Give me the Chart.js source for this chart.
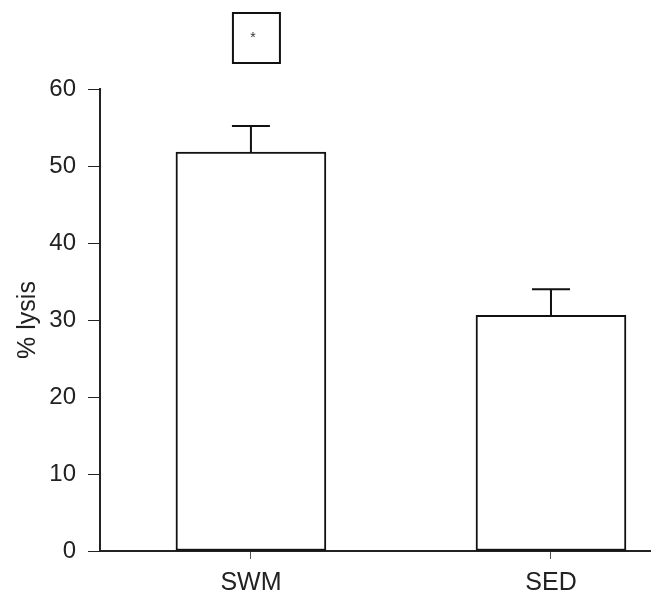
<!DOCTYPE html>
<html>
<head>
<meta charset="utf-8">
<script src="https://cdn.jsdelivr.net/npm/chart.js@4"></script>
<style>
  body { margin: 0; background: #fff; }
  #lysisChart { display: block; }
</style>
</head>
<body>
<canvas id="lysisChart" width="657" height="601"></canvas>
<script>
const categories = ["SWM", "SED"];
const xPositions = [1, 2];
const meanLysis = [51.8, 30.6];
const errLysis = [3.4, 3.4];
const yTicks = [0, 10, 20, 30, 40, 50, 60];
const sigMark = "*";

const FONT = "'Liberation Sans', Arial, sans-serif";

// error bars drawn on top of the bars
const errorBars = {
  id: "errorBars",
  afterDatasetsDraw(chart) {
    const c = chart.ctx;
    const xs = chart.scales.x;
    const ys = chart.scales.y;
    c.save();
    c.strokeStyle = "#111";
    c.lineWidth = 2;
    meanLysis.forEach((m, i) => {
      const x = xs.getPixelForValue(xPositions[i]);
      const yBar = ys.getPixelForValue(m);
      const yTop = ys.getPixelForValue(m + errLysis[i]);
      c.beginPath();
      c.moveTo(x, yBar);
      c.lineTo(x, yTop);
      c.moveTo(x - 19, yTop);
      c.lineTo(x + 19, yTop);
      c.stroke();
    });
    c.restore();
  }
};

// significance box above the chart
const sigBox = {
  id: "sigBox",
  afterDraw(chart) {
    const c = chart.ctx;
    const cx = chart.scales.x.getPixelForValue(xPositions[0]) + 5;
    const top = chart.chartArea.top - 76;
    c.save();
    c.strokeStyle = "#111";
    c.lineWidth = 2;
    c.strokeRect(cx - 23, top, 47, 50);
    c.fillStyle = "#333";
    c.font = "14px " + FONT;
    c.textAlign = "center";
    c.textBaseline = "middle";
    c.fillText(sigMark, cx - 3, top + 25);
    c.restore();
  }
};

const ctx = document.getElementById("lysisChart").getContext("2d");
const chart = new Chart(ctx, {
  type: "bar",
  data: {
    datasets: [{
      data: xPositions.map((x, i) => ({ x: x, y: meanLysis[i] })),
      backgroundColor: "#fff",
      borderColor: "#111",
      borderWidth: 2,
      borderSkipped: false,
      barThickness: 150
    }]
  },
  options: {
    responsive: false,
    animation: false,
    layout: { padding: { top: 89, right: 7, left: 13, bottom: 0 } },
    plugins: {
      legend: { display: false },
      tooltip: { enabled: false }
    },
    scales: {
      x: {
        type: "linear",
        offset: false,
        min: 0.497,
        max: 2.33,
        afterBuildTicks(scale) {
          scale.ticks = xPositions.map(v => ({ value: v }));
        },
        afterFit(scale) { scale.height = 50; },
        grid: { offset: false, drawOnChartArea: false, drawTicks: true, tickLength: 8, color: "#555", lineWidth: 1 },
        border: { display: true, color: "#222", width: 2 },
        ticks: {
          color: "#222",
          font: { family: FONT, size: 25 },
          padding: 9,
          callback: (v) => {
            const i = xPositions.indexOf(v);
            return i >= 0 ? categories[i] : "";
          }
        }
      },
      y: {
        min: 0,
        max: 60,
        afterBuildTicks(scale) {
          scale.ticks = yTicks.map(v => ({ value: v }));
        },
        afterFit(scale) { scale.width = 87; },
        grid: { drawOnChartArea: false, drawTicks: true, tickLength: 12, color: "#222", lineWidth: 1 },
        border: { display: true, color: "#222", width: 2 },
        ticks: {
          color: "#222",
          font: { family: FONT, size: 24 },
          padding: 12
        },
        title: {
          display: true,
          text: "% lysis",
          color: "#222",
          font: { family: FONT, size: 25 },
          padding: { top: 0, bottom: 0 }
        }
      }
    }
  },
  plugins: [errorBars, sigBox]
});
</script>
</body>
</html>
